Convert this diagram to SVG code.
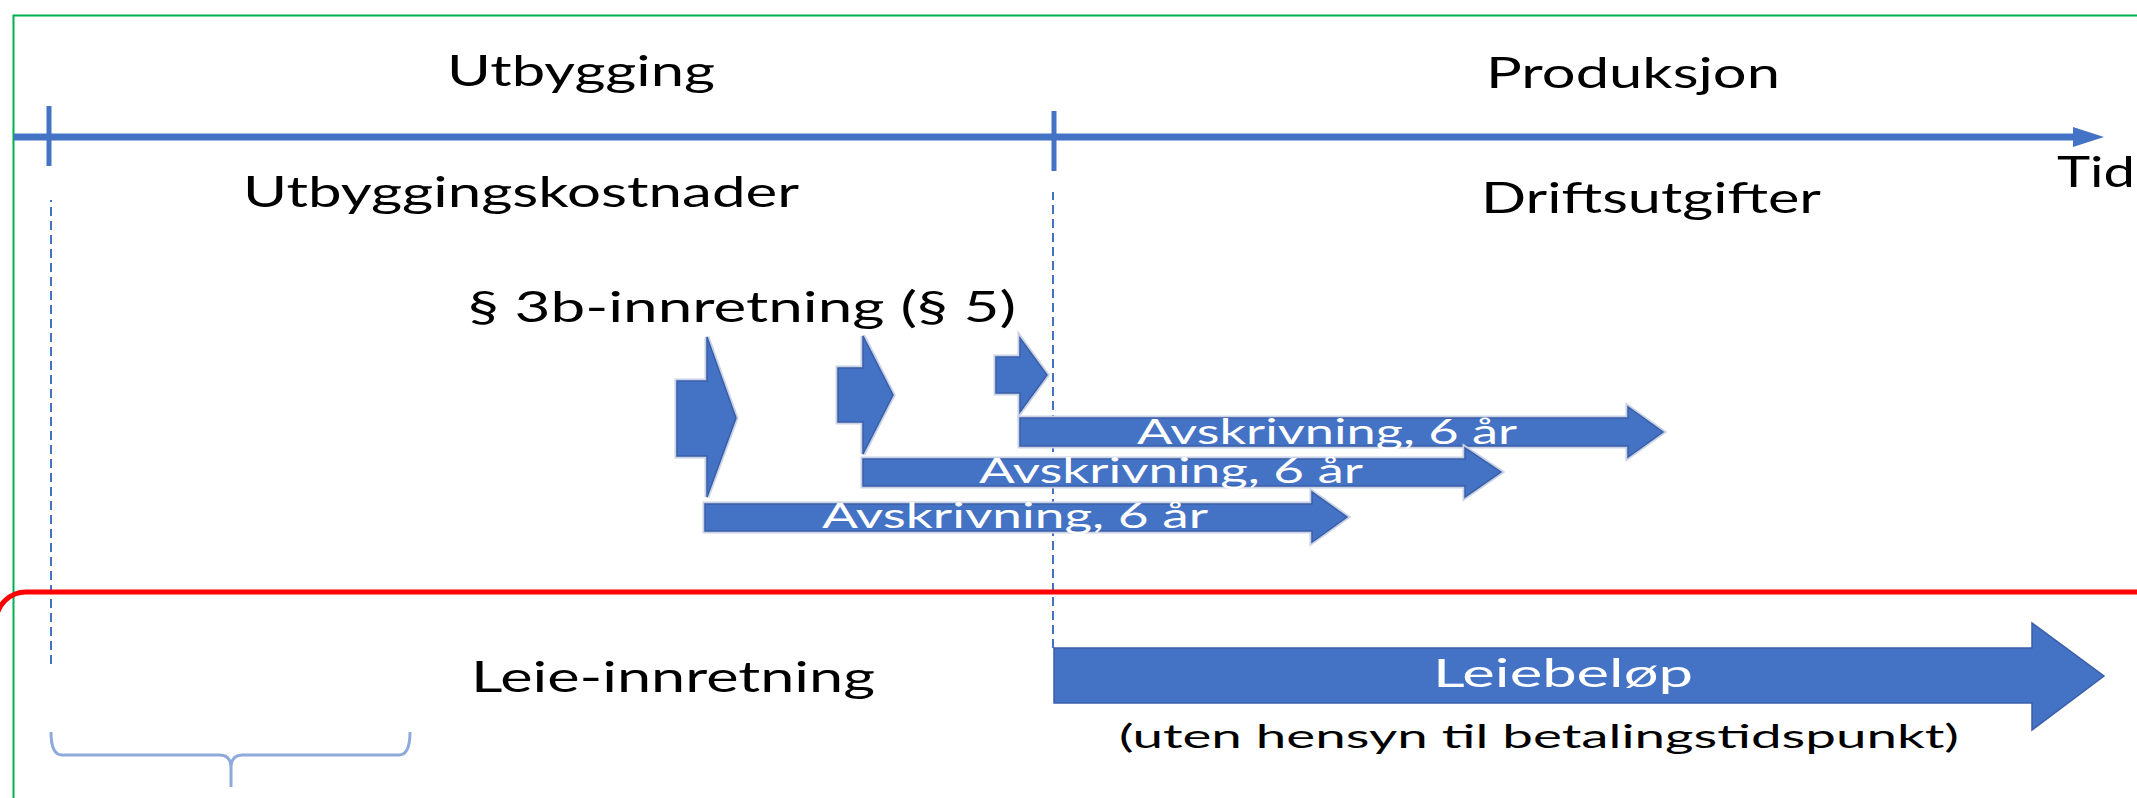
<svg xmlns="http://www.w3.org/2000/svg" width="2137" height="798" viewBox="0 0 2137 798">
  <style>
    .lbl { font-family: Lato, "Liberation Sans", sans-serif; font-size: 42px; fill: #000; }
    .bar-text { font-family: Lato, "Liberation Sans", sans-serif; font-size: 34px; fill: #fff; }
    .halo { fill: none; stroke: #C9D2E5; stroke-width: 5; stroke-linejoin: miter; }
    .shape { fill: #4472C4; stroke: #3A5FA8; stroke-width: 1.5; }
    .guide { stroke: #4472C4; stroke-width: 2; stroke-dasharray: 9 5; fill: none; }
  </style>
  <defs>
    <marker id="axisHead" markerUnits="userSpaceOnUse" markerWidth="32" markerHeight="22" refX="0" refY="11" orient="auto">
      <path d="M0,1 L31,11 L0,21 Z" fill="#4472C4"/>
    </marker>
  </defs>

  <rect width="2137" height="798" fill="#fff"/>

  <!-- outer frame (green) -->
  <rect x="13.5" y="15.5" width="2200" height="900" fill="none" stroke="#00B050" stroke-width="2"/>

  <!-- time axis, phase marks, guide lines and brace -->
  <g id="connectors">
    <line x1="14" y1="137" x2="2073" y2="137" stroke="#4472C4" stroke-width="7" marker-end="url(#axisHead)"/>
    <line x1="49" y1="106" x2="49" y2="166" stroke="#4472C4" stroke-width="5"/>
    <line x1="1054" y1="111" x2="1054" y2="171" stroke="#4472C4" stroke-width="5"/>
    <path d="M51,664 L51,200" class="guide"/>
    <path d="M1053,648 L1053,192" class="guide"/>
    <path d="M51,732 Q51,755 62,755 L220,755 Q231,755 231,768 L231,787 M231,768 Q231,755 242,755 L399,755 Q410,755 410,732" fill="none" stroke="#8EA9DB" stroke-width="3"/>
  </g>

  <!-- phase headings -->
  <g id="phase-utbygging"><text class="lbl" x="447" y="86" textLength="268" lengthAdjust="spacingAndGlyphs">Utbygging</text></g>
  <g id="phase-produksjon"><text class="lbl" x="1486" y="88" textLength="294" lengthAdjust="spacingAndGlyphs">Produksjon</text></g>
  <g id="axis-label"><text class="lbl" x="2057" y="187" textLength="78" lengthAdjust="spacingAndGlyphs">Tid</text></g>
  <g id="cost-utbygging"><text class="lbl" x="243" y="207" textLength="556" lengthAdjust="spacingAndGlyphs">Utbyggingskostnader</text></g>
  <g id="cost-drift"><text class="lbl" x="1481" y="213" textLength="340" lengthAdjust="spacingAndGlyphs">Driftsutgifter</text></g>
  <g id="title-3b"><text class="lbl" x="468" y="322" textLength="548" lengthAdjust="spacingAndGlyphs">§ 3b-innretning (§ 5)</text></g>

  <!-- investment tranches -->
  <g id="tranche-1">
    <polygon class="halo" points="677,381 707,381 707,337 736,418 707,497 707,456 677,456"/>
    <polygon class="shape" points="677,381 707,381 707,337 736,418 707,497 707,456 677,456"/>
  </g>
  <g id="tranche-2">
    <polygon class="halo" points="838,368 863,368 863,336 893,395 863,454 863,422 838,422"/>
    <polygon class="shape" points="838,368 863,368 863,336 893,395 863,454 863,422 838,422"/>
  </g>
  <g id="tranche-3">
    <polygon class="halo" points="996,357 1020,357 1020,338 1047,375 1020,412 1020,393 996,393"/>
    <polygon class="shape" points="996,357 1020,357 1020,338 1047,375 1020,412 1020,393 996,393"/>
  </g>

  <!-- depreciation periods -->
  <g id="avskrivning-3">
    <polygon class="halo" points="1020,418 1628,418 1628,407 1663,432 1628,457 1628,446 1020,446"/>
    <polygon class="shape" points="1020,418 1628,418 1628,407 1663,432 1628,457 1628,446 1020,446"/>
    <text class="bar-text" x="1137" y="444" textLength="380" lengthAdjust="spacingAndGlyphs">Avskrivning, 6 år</text>
  </g>
  <g id="avskrivning-2">
    <polygon class="halo" points="863,459 1465,459 1465,448 1501,472 1465,497 1465,486 863,486"/>
    <polygon class="shape" points="863,459 1465,459 1465,448 1501,472 1465,497 1465,486 863,486"/>
    <text class="bar-text" x="979" y="483" textLength="384" lengthAdjust="spacingAndGlyphs">Avskrivning, 6 år</text>
  </g>
  <g id="avskrivning-1">
    <polygon class="halo" points="705,504 1312,504 1312,492 1347,517 1312,542 1312,531 705,531"/>
    <polygon class="shape" points="705,504 1312,504 1312,492 1347,517 1312,542 1312,531 705,531"/>
    <text class="bar-text" x="822" y="528" textLength="386" lengthAdjust="spacingAndGlyphs">Avskrivning, 6 år</text>
  </g>

  <!-- lease section (red frame, left edge runs just outside the canvas) -->
  <rect x="-4" y="592" width="2300" height="400" rx="30" ry="30" fill="none" stroke="#FF0000" stroke-width="5"/>

  <g id="leie-innretning"><text class="lbl" x="471" y="692" textLength="404" lengthAdjust="spacingAndGlyphs">Leie-innretning</text></g>

  <g id="leiebelop">
    <polygon class="shape" points="1054,648 2032,648 2032,623 2104,676 2032,730 2032,703 1054,703"/>
    <text x="1433" y="687" font-family="Lato, 'Liberation Sans', sans-serif" font-size="38" fill="#fff" textLength="260" lengthAdjust="spacingAndGlyphs">Leiebeløp</text>
  </g>
  <g id="leie-note"><text x="1119" y="748" font-family="Lato, 'Liberation Sans', sans-serif" font-size="33" fill="#000" textLength="840" lengthAdjust="spacingAndGlyphs">(uten hensyn til betalingstidspunkt)</text></g>
</svg>
